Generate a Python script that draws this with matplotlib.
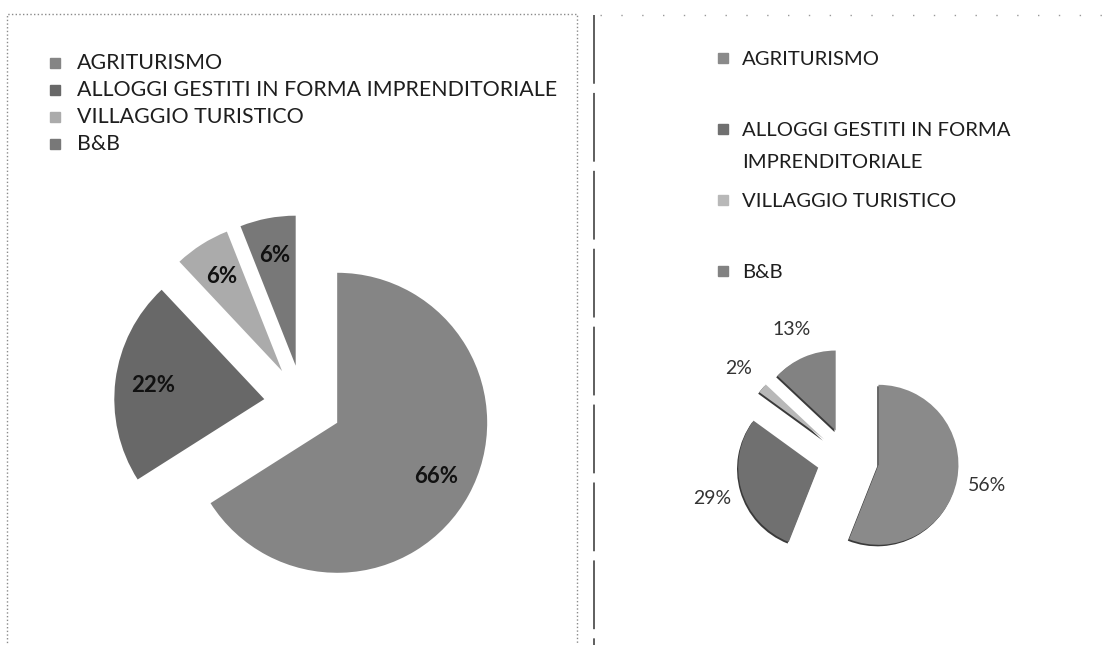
import matplotlib
matplotlib.use("Agg")
import matplotlib.pyplot as plt
from matplotlib.patches import Rectangle

# data
categories = ["AGRITURISMO", "ALLOGGI GESTITI IN FORMA IMPRENDITORIALE",
              "VILLAGGIO TURISTICO", "B&B"]
right_labels = ["AGRITURISMO", "ALLOGGI GESTITI IN FORMA\nIMPRENDITORIALE",
                "VILLAGGIO TURISTICO", "B&B"]
left_values = [66, 22, 6, 6]
right_values = [56, 29, 2, 13]
left_colors = ["#858585", "#686868", "#ababab", "#787878"]
right_colors = ["#8a8a8a", "#707070", "#b8b8b8", "#828282"]

W, H = 1113, 645
plt.rcParams['font.family'] = ['Lato', 'DejaVu Sans']

fig = plt.figure(figsize=(W / 100, H / 100), dpi=100)
ax = fig.add_axes([0, 0, 1, 1])


def Y(y):
    # picture rows counted from the top
    return H - y


# left chart
ax.pie(left_values, colors=left_colors, startangle=90, counterclock=False,
       center=(303, Y(404)), radius=150, explode=[39] * 4,
       autopct='%1.0f%%', pctdistance=0.75,
       textprops=dict(fontsize=16, fontweight='bold', color='#111111'))

# right chart, with a thin dark shadow underneath for the 3d look
ax.pie(right_values, colors=['#3a3a3a'] * 4, startangle=90, counterclock=False,
       center=(846.8, Y(460.5)), radius=80, explode=[31] * 4)
ax.pie(right_values, colors=right_colors, startangle=90, counterclock=False,
       center=(848, Y(459)), radius=80, explode=[31] * 4,
       autopct='%1.0f%%', pctdistance=1.38,
       textprops=dict(fontsize=14, color='#333333'))

# left legend
for i, (lab, col) in enumerate(zip(categories, left_colors)):
    yy = 63 + i * 27
    ax.add_patch(Rectangle((50, Y(yy + 5)), 10, 10, color=col))
    ax.text(77, Y(yy), lab, fontsize=15.4, va='center', ha='left',
            color='#1e1e1e')

# right legend
for i, (lab, col) in enumerate(zip(right_labels, right_colors)):
    yy = 58 + i * 71
    ax.add_patch(Rectangle((718, Y(yy + 5)), 10, 10, color=col))
    ax.text(742, Y(yy - 7), lab, fontsize=14.6, va='top', ha='left',
            color='#1e1e1e', linespacing=2.1)

# frames of the scanned page
ax.add_patch(Rectangle((7, Y(660)), 570, 646, fill=False, ec='#8a8a8a',
                       lw=1, ls=':'))
ax.plot([594, 594], [Y(15), Y(645)], color='#333333', lw=1.1,
        ls=(0, (45, 6)))
ax.plot([600, W], [Y(15), Y(15)], color='#999999', lw=1, ls=(0, (1, 14)))

ax.set_xlim(0, W)
ax.set_ylim(0, H)
ax.set_aspect('auto')
ax.axis('off')

fig.savefig('out.png', dpi=100, facecolor='white')
